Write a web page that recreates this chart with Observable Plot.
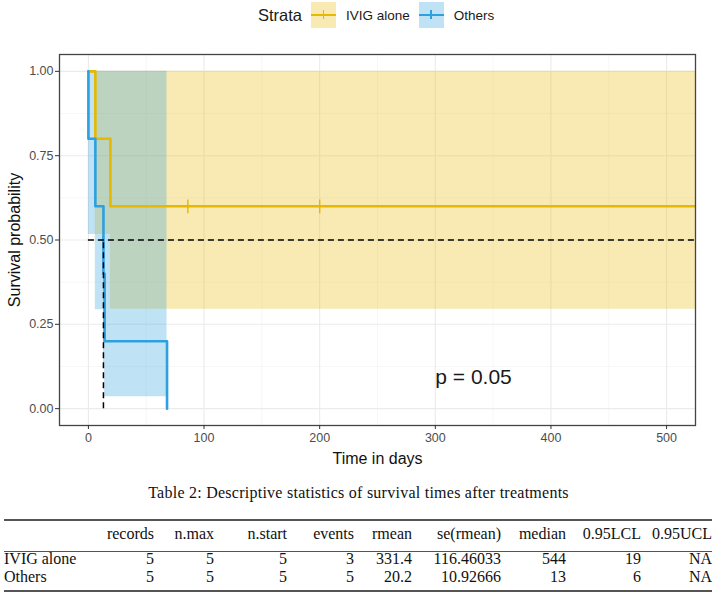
<!DOCTYPE html>
<html>
<head>
<meta charset="utf-8">
<script src="https://cdn.jsdelivr.net/npm/d3@7"></script>
<script src="https://cdn.jsdelivr.net/npm/@observablehq/plot@0.6"></script>
<style>
  body { margin: 0; background: #fff; width: 717px; font-family: "Liberation Sans", Arial, sans-serif; }
  #legend { height: 30px; display: flex; justify-content: flex-start; align-items: center; padding-left: 258px; box-sizing: border-box; }
  #legend .title { font-size: 16.5px; color: #1a1a1a; margin-right: 9px; }
  #legend .key { width: 25px; height: 26px; position: relative; margin-right: 10px; }
  #legend .key .h { position: absolute; left: 0; right: 0; top: 11.5px; height: 2.5px; }
  #legend .key .v { position: absolute; left: 11.5px; width: 1.6px; top: 8px; height: 9px; }
  #legend .lab { font-size: 13.5px; color: #1a1a1a; margin-right: 9px; }
  #chart svg { display: block; }
  #tbl { font-family: "Liberation Serif", "Times New Roman", serif; color: #111; }
  #tbl .cap { text-align: center; font-size: 16px; letter-spacing: 0.25px; line-height: 20px; margin-top: 11px; height: 20px; }
  #tbl table { margin-top: 16px; margin-left: 4px; border-collapse: collapse; table-layout: fixed; font-size: 16px; line-height: 18px; }
  #tbl td, #tbl th { padding: 0; font-weight: normal; white-space: nowrap; }
  #tbl thead tr { border-top: 2px solid #555; border-bottom: 1px solid #555; height: 31px; }
  #tbl thead th { vertical-align: top; padding-top: 4px; text-align: right; }
  #tbl tbody tr { height: 18px; }
  #tbl tbody td { vertical-align: top; position: relative; top: -2px; }
  #tbl tbody tr:last-child td { padding-bottom: 2px; }
  #tbl tbody tr:last-child { border-bottom: 2px solid #555; }
  #tbl td { text-align: right; }
  #tbl td.first, #tbl th.first { text-align: left; }
</style>
</head>
<body>
<div id="legend"></div>
<div id="chart"></div>
<div id="tbl"></div>
<script>
// ---------- data ----------
const strata = ["IVIG alone", "Others"];
const strataColors = ["#E7B800", "#2E9FDF"];

// Kaplan-Meier step points (time in days, survival, 95% CI)
const ivigTime  = [0, 6, 19, 544];
const ivigSurv  = [1, 0.8, 0.6, 0];
const ivigLower = [1, 0.516, 0.295, 0.295];
const ivigUpper = [1, 1, 1, 1];
const ivigCensorTime = [86, 200];
const ivigCensorSurv = [0.6, 0.6];

const othersTime  = [0, 0, 6, 13, 14, 68];
const othersSurv  = [1, 0.8, 0.6, 0.4, 0.2, 0];
const othersLower = [1, 0.516, 0.293, 0.137, 0.035, 0.035];
const othersUpper = [1, 1, 1, 1, 1, 1];

const medianSurvival = [544, 13];
const pValueText = "p = 0.05";
const pValuePos = [300, 0.1];

const xTicks = [0, 100, 200, 300, 400, 500];
const xMinor = [50, 150, 250, 350, 450];
const yTicks = [0, 0.25, 0.5, 0.75, 1];
const yMinor = [0.125, 0.375, 0.625, 0.875];

// table
const tableCaption = "Table 2: Descriptive statistics of survival times after treatments";
const tableHeader = ["", "records", "n.max", "n.start", "events", "rmean", "se(rmean)", "median", "0.95LCL", "0.95UCL"];
const tableRowNames = ["IVIG alone", "Others"];
const colRecords = ["5", "5"];
const colNmax = ["5", "5"];
const colNstart = ["5", "5"];
const colEvents = ["3", "5"];
const colRmean = ["331.4", "20.2"];
const colSeRmean = ["116.46033", "10.92666"];
const colMedian = ["544", "13"];
const colLCL = ["19", "6"];
const colUCL = ["NA", "NA"];

// ---------- build rows ----------
const km = [];
ivigTime.forEach((t, i) => km.push({strata: strata[0], time: t, surv: ivigSurv[i], lower: ivigLower[i], upper: ivigUpper[i]}));
othersTime.forEach((t, i) => km.push({strata: strata[1], time: t, surv: othersSurv[i], lower: othersLower[i], upper: othersUpper[i]}));
const censor = ivigCensorTime.map((t, i) => ({strata: strata[0], time: t, surv: ivigCensorSurv[i]}));

// ---------- legend ----------
const leg = document.getElementById("legend");
leg.innerHTML = `<span class="title">Strata</span>` + strata.map((s, i) => {
  const c = strataColors[i];
  const rgb = d3.rgb(c);
  return `<span class="key" style="background: rgba(${rgb.r},${rgb.g},${rgb.b},0.3)"><span class="h" style="background:${c}"></span><span class="v" style="background:${c}"></span></span><span class="lab">${s}</span>`;
}).join("");

// ---------- plot ----------
const chart = Plot.plot({
  width: 717,
  height: 442,
  marginTop: 24,
  marginBottom: 47,
  marginLeft: 59,
  marginRight: 22,
  style: {fontFamily: "'Liberation Sans', Arial, sans-serif", fontSize: "12px", color: "#4D4D4D", background: "white"},
  x: {domain: [-25, 525]},
  y: {domain: [-0.05, 1.05]},
  color: {domain: strata, range: strataColors},
  marks: [
    Plot.ruleX(xMinor, {stroke: "#F3F3F3", strokeWidth: 0.7}),
    Plot.ruleY(yMinor, {stroke: "#F3F3F3", strokeWidth: 0.7}),
    Plot.ruleX(xTicks, {stroke: "#EBEBEB", strokeWidth: 1.1}),
    Plot.ruleY(yTicks, {stroke: "#EBEBEB", strokeWidth: 1.1}),
    Plot.areaY(km, {x: "time", y1: "lower", y2: "upper", fill: "strata", fillOpacity: 0.3, curve: "step-after", clip: true}),
    Plot.lineY(km, {x: "time", y: "surv", stroke: "strata", strokeWidth: 2.6, curve: "step-after", clip: true}),
    Plot.dot(censor, {x: "time", y: "surv", stroke: "strata", symbol: "plus", r: 4.5, strokeWidth: 1.4, clip: true}),
    Plot.ruleY([0.5], {x1: 0, x2: d3.max(medianSurvival), stroke: "black", strokeWidth: 1.5, strokeDasharray: "6,4", clip: true}),
    Plot.ruleX(medianSurvival, {x: d => d, y1: 0, y2: 0.5, stroke: "black", strokeWidth: 1.5, strokeDasharray: "6,4", clip: true}),
    Plot.text([pValueText], {x: pValuePos[0], y: pValuePos[1], text: d => d, textAnchor: "start", fontSize: 21, dy: 2, fill: "#1a1a1a"}),
    Plot.frame({stroke: "#444", strokeWidth: 1.3}),
    Plot.axisX(xTicks, {tickSize: 4, tickPadding: 4, stroke: "#333", fill: "#4D4D4D", fontSize: 12.5, label: null}),
    Plot.axisY(yTicks, {tickSize: 4, tickPadding: 2, stroke: "#333", fill: "#4D4D4D", fontSize: 12.5, tickFormat: d3.format(".2f"), label: null}),
    Plot.text(["Time in days"], {frameAnchor: "bottom", dy: 33, text: d => d, fontSize: 16, fill: "#111", lineAnchor: "middle"}),
    Plot.text(["Survival probability"], {frameAnchor: "left", dx: -45, rotate: -90, text: d => d, textAnchor: "middle", fontSize: 16, fill: "#111"})
  ]
});
document.getElementById("chart").appendChild(chart);

// ---------- table ----------
const colRightEdges = [95, 154, 214, 287, 354, 412, 501, 566, 641, 712];
const colWidths = colRightEdges.map((r, i) => r - (i === 0 ? 4 : colRightEdges[i - 1]));
const cols = [tableRowNames, colRecords, colNmax, colNstart, colEvents, colRmean, colSeRmean, colMedian, colLCL, colUCL];
let html = `<div class="cap">${tableCaption}</div><table><colgroup>` +
  colWidths.map(w => `<col style="width:${w}px">`).join("") + `</colgroup><thead><tr>` +
  tableHeader.map((h, i) => `<th class="${i === 0 ? "first" : ""}">${h}</th>`).join("") + `</tr></thead><tbody>`;
tableRowNames.forEach((_, r) => {
  html += "<tr>" + cols.map((c, i) => `<td class="${i === 0 ? "first" : ""}">${c[r]}</td>`).join("") + "</tr>";
});
html += "</tbody></table>";
document.getElementById("tbl").innerHTML = html;
</script>
</body>
</html>
